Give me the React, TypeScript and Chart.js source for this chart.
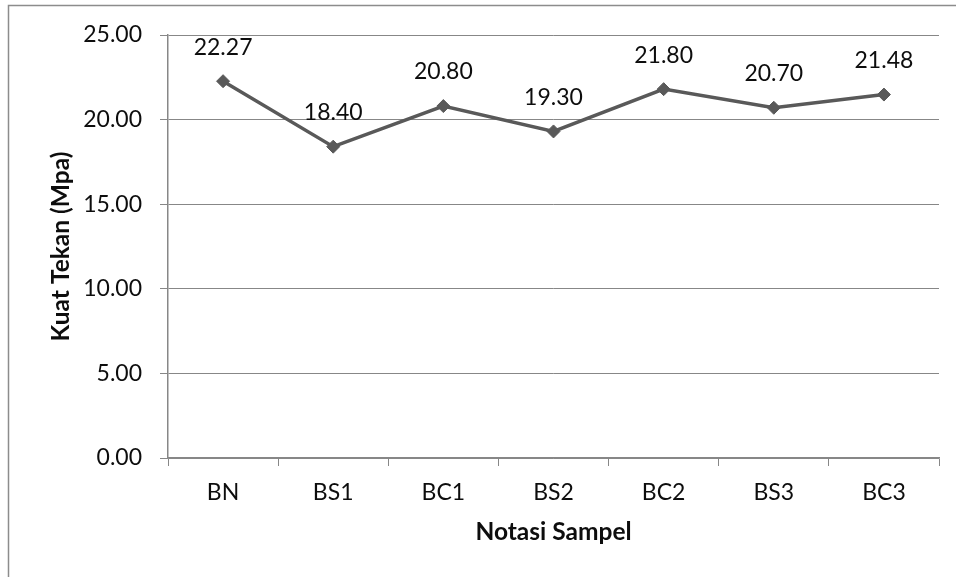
import React, { useEffect, useRef } from "react";
import { Chart, registerables } from "chart.js";

Chart.register(...registerables);

// Sample notations on the x axis
const categories: string[] = ["BN", "BS1", "BC1", "BS2", "BC2", "BS3", "BC3"];
// Compressive strength (MPa) for each sample
const strengthValues: number[] = [22.27, 18.4, 20.8, 19.3, 21.8, 20.7, 21.48];
// Value axis range
const yMin = 0;
const yMax = 25;
const yStep = 5;

const yTitle = "Kuat Tekan (Mpa)";
const xTitle = "Notasi Sampel";

const FONT = "Lato, 'Open Sans', sans-serif";
const GRID = "#878787";
const LINE = "#595959";
const TEXT = "#0d0d0d";

// Frame line around the whole figure
const framePlugin = {
  id: "frame",
  beforeDraw(chart: any) {
    const ctx = chart.ctx;
    ctx.save();
    ctx.fillStyle = "#ffffff";
    ctx.fillRect(0, 0, chart.width, chart.height);
    ctx.strokeStyle = "#8c8c8c";
    ctx.lineWidth = 1.5;
    ctx.strokeRect(8.5, 5.5, chart.width + 10, chart.height + 10);
    ctx.restore();
  },
};

// Value labels above every point
const valueLabelPlugin = {
  id: "valueLabels",
  afterDatasetsDraw(chart: any) {
    const ctx = chart.ctx;
    const meta = chart.getDatasetMeta(0);
    const data = chart.data.datasets[0].data as number[];
    ctx.save();
    ctx.font = `23px ${FONT}`;
    ctx.fillStyle = TEXT;
    ctx.textAlign = "center";
    ctx.textBaseline = "middle";
    meta.data.forEach((pt: any, i: number) => {
      ctx.fillText(data[i].toFixed(2), pt.x, pt.y - 34);
    });
    ctx.restore();
  },
};

export default function App() {
  const canvasRef = useRef<HTMLCanvasElement | null>(null);

  useEffect(() => {
    const canvas = canvasRef.current;
    if (!canvas) return;
    const chart = new Chart(canvas, {
      type: "line",
      data: {
        labels: categories,
        datasets: [
          {
            data: strengthValues,
            borderColor: LINE,
            backgroundColor: LINE,
            borderWidth: 3.5,
            pointStyle: "rectRot",
            pointRadius: 6.5,
            pointBackgroundColor: LINE,
            pointBorderColor: LINE,
            pointBorderWidth: 1,
            tension: 0,
            fill: false,
          },
        ],
      },
      options: {
        responsive: false,
        animation: false,
        devicePixelRatio: 1,
        layout: { padding: { left: 0, top: 35, right: 17, bottom: 0 } },
        plugins: {
          legend: { display: false },
          tooltip: { enabled: false },
          title: { display: false },
        },
        scales: {
          x: {
            type: "category",
            offset: true,
            grid: {
              offset: true,
              drawOnChartArea: false,
              drawTicks: true,
              tickLength: 8,
              color: GRID,
              lineWidth: 1,
            },
            border: { display: true, color: GRID, width: 1.5 },
            ticks: {
              color: TEXT,
              font: { family: FONT, size: 23 },
              padding: 13,
              maxRotation: 0,
              autoSkip: false,
            },
            title: {
              display: true,
              text: xTitle,
              color: TEXT,
              font: { family: FONT, size: 24.5, weight: "bold" },
              padding: { top: 0, bottom: 30 },
            },
            afterFit(scale: any) {
              scale.height = 119;
            },
          },
          y: {
            min: yMin,
            max: yMax,
            ticks: {
              stepSize: yStep,
              color: TEXT,
              font: { family: FONT, size: 23 },
              padding: 18,
              callback: (v: any) => Number(v).toFixed(2),
            },
            grid: {
              color: GRID,
              lineWidth: 1,
              drawTicks: true,
              tickLength: 8,
            },
            border: { display: true, color: GRID, width: 1.5 },
            title: {
              display: true,
              text: yTitle,
              color: TEXT,
              font: { family: FONT, size: 24.5, weight: "bold" },
              padding: { top: 46, bottom: 0 },
            },
            afterFit(scale: any) {
              scale.width = 168;
            },
          },
        },
      },
      plugins: [framePlugin, valueLabelPlugin],
    });
    return () => chart.destroy();
  }, []);

  return (
    <div style={{ position: "fixed", left: 0, top: 0, width: 956, height: 577, background: "#fff" }}>
      <canvas ref={canvasRef} width={956} height={577} style={{ display: "block", width: 956, height: 577 }} />
    </div>
  );
}
